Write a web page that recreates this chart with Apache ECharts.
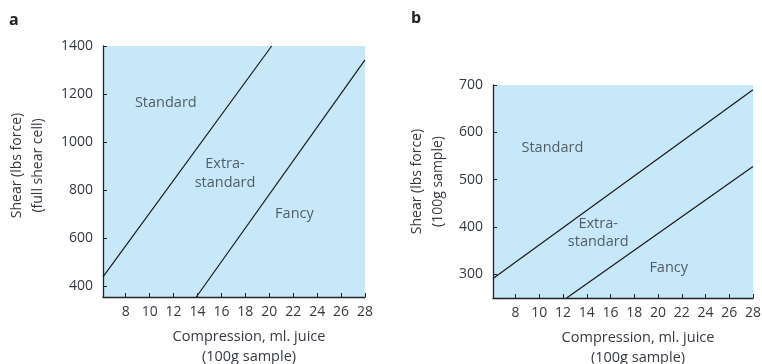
<!DOCTYPE html>
<html><head><meta charset="utf-8">
<script src="https://cdn.jsdelivr.net/npm/echarts@6/dist/echarts.min.js"></script>
<style>html,body{margin:0;padding:0;background:#fff}#c{width:762px;height:364px}</style>
</head><body><div id="c"></div>
<script>
const xTicks = [8,10,12,14,16,18,20,22,24,26,28];
const yTicksA = [400,600,800,1000,1200,1400];
const yTicksB = [300,400,500,600,700];
const lineA1 = [[6.1,439],[20.2,1400]];
const lineA2 = [[13.9,355],[28,1342]];
const lineB1 = [[6.1,291],[28,690]];
const lineB2 = [[12.3,250],[28,528]];
const regionNames = ['Standard','Extra-','standard','Fancy'];
const labelPosA = [[11.35,1164],[16.3,911],[16.3,832],[22.1,703]];
const labelPosB = [[11.1,567],[14.96,407],[14.96,369],[20.9,314]];

const FONT = 'Open Sans';
const TXT = '#353a40';
const BG = '#c6e8f8';

function xAxis(gi){
  return {type:'value', gridIndex:gi, min:6.1, max:28,
    name:'Compression, ml. juice\n(100g sample)', nameLocation:'middle', nameGap:30,
    nameTextStyle:{fontFamily:FONT, fontSize:14.5, color:TXT, lineHeight:20, padding:[0,0,0,30]},
    axisLine:{lineStyle:{color:'#222', width:1.3}},
    axisTick:{inside:true, length:4, customValues:xTicks, lineStyle:{color:'#222'}},
    axisLabel:{customValues:xTicks, fontFamily:FONT, fontSize:14, color:TXT, margin:8, formatter:v=>String(v)},
    splitLine:{show:false}};
}
function yAxis(gi,min,max,ticks,name,gap,shift){
  return {type:'value', gridIndex:gi, min:min, max:max,
    name:name, nameLocation:'middle', nameGap:gap, nameRotate:90,
    nameTextStyle:{fontFamily:FONT, fontSize:14, color:TXT, lineHeight:21, padding:[0,0,0,shift]},
    axisLine:{show:true, lineStyle:{color:'#222', width:1.3}},
    axisTick:{show:true, inside:true, length:4, customValues:ticks, lineStyle:{color:'#222'}},
    axisLabel:{customValues:ticks, fontFamily:FONT, fontSize:14, color:TXT, margin:10, formatter:v=>String(v)},
    splitLine:{show:false}};
}
function lineSeries(xi,data){
  return {type:'line', xAxisIndex:xi, yAxisIndex:xi, data:data, symbol:'none', silent:true,
    lineStyle:{color:'#1a1a1a', width:1.2}};
}
function labelSeries(xi,pos){
  return {type:'scatter', xAxisIndex:xi, yAxisIndex:xi, symbolSize:0, silent:true,
    data:pos.map((p,i)=>({value:p, name:regionNames[i]})),
    label:{show:true, position:'inside', formatter:'{b}', fontFamily:FONT, fontSize:14.5, color:TXT}};
}

const chart = echarts.init(document.getElementById('c'), null, {renderer:'canvas'});
chart.setOption({
  animation:false,
  grid:[
    {left:103, right:397, top:46, bottom:67, show:true, backgroundColor:BG, borderWidth:0, containLabel:false, outerBoundsMode:'none'},
    {left:493, right:9, top:85, bottom:66, show:true, backgroundColor:BG, borderWidth:0, containLabel:false, outerBoundsMode:'none'}
  ],
  xAxis:[xAxis(0), xAxis(1)],
  yAxis:[
    yAxis(0,355,1400,yTicksA,'Shear (lbs force)\n(full shear cell)',54,12),
    yAxis(1,250,700,yTicksB,'Shear (lbs force)\n(100g sample)',44,20)
  ],
  graphic:[
    {type:'text', left:9, top:12, style:{text:'a', font:'bold 16px "Open Sans"', fill:'#222'}},
    {type:'text', left:411, top:10, style:{text:'b', font:'bold 16px "Open Sans"', fill:'#222'}}
  ],
  series:[
    lineSeries(0,lineA1), lineSeries(0,lineA2), labelSeries(0,labelPosA),
    lineSeries(1,lineB1), lineSeries(1,lineB2), labelSeries(1,labelPosB)
  ]
});
</script></body></html>
